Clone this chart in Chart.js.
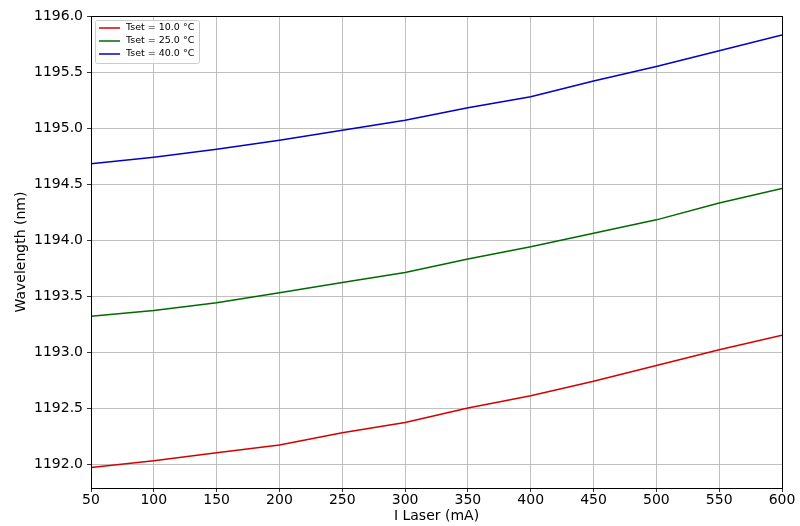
<!DOCTYPE html>
<html>
<head>
<meta charset="utf-8">
<script src="https://cdn.jsdelivr.net/npm/chart.js@4"></script>
<style>
    html, body { margin: 0; padding: 0; background: #fff; }
    #wrap { width: 800px; height: 526px; }
</style>
</head>
<body>
<div id="wrap"><canvas id="myChart" width="800" height="526"></canvas></div>
<script>
// Corriente del laser (mA)
var currents = [50, 100, 150, 200, 250, 300, 350, 400, 450, 500, 550, 600];

// Longitud de onda (nm) por temperatura
var wl10 = [1191.97, 1192.03, 1192.10, 1192.17, 1192.28, 1192.37, 1192.50, 1192.61, 1192.74, 1192.88, 1193.02, 1193.15];
var wl25 = [1193.32, 1193.37, 1193.44, 1193.53, 1193.62, 1193.71, 1193.83, 1193.94, 1194.06, 1194.18, 1194.33, 1194.46];
var wl40 = [1194.68, 1194.74, 1194.81, 1194.89, 1194.98, 1195.07, 1195.18, 1195.28, 1195.42, 1195.55, 1195.69, 1195.83];

var seriesLabels = ["Tset = 10.0 °C", "Tset = 25.0 °C", "Tset = 40.0 °C"];
var seriesColors = ["#d40000", "#006a00", "#0000c8"];

var yTicks = [1192.0, 1192.5, 1193.0, 1193.5, 1194.0, 1194.5, 1195.0, 1195.5, 1196.0];

let toPoints = (ys) => currents.map((x, i) => ({ x: x, y: ys[i] }));

const FONT = "'DejaVu Sans', sans-serif";

// leyenda dentro del area del grafico (arriba a la izquierda)
const innerLegend = {
    id: "innerLegend",
    afterDraw(chart) {
        const ctx = chart.ctx;
        const area = chart.chartArea;
        const x0 = area.left + 4, y0 = area.top + 4;
        const w = 104, h = 43;
        ctx.save();
        ctx.fillStyle = "rgba(255,255,255,0.8)";
        ctx.strokeStyle = "#cccccc";
        ctx.lineWidth = 1;
        ctx.beginPath();
        ctx.roundRect(x0 + 0.5, y0 + 0.5, w, h, 2);
        ctx.fill();
        ctx.stroke();
        ctx.font = "9.5px " + FONT;
        ctx.textBaseline = "middle";
        chart.data.datasets.forEach((ds, i) => {
            const yy = y0 + 8 + i * 13;
            ctx.strokeStyle = ds.borderColor;
            ctx.lineWidth = 1.5;
            ctx.beginPath();
            ctx.moveTo(x0 + 4, yy);
            ctx.lineTo(x0 + 25, yy);
            ctx.stroke();
            ctx.fillStyle = "#000";
            ctx.fillText(ds.label, x0 + 31, yy);
        });
        ctx.restore();
    }
};

// marco negro alrededor del area
const frame = {
    id: "frame",
    afterDraw(chart) {
        const a = chart.chartArea;
        const ctx = chart.ctx;
        ctx.save();
        ctx.strokeStyle = "#000";
        ctx.lineWidth = 1;
        ctx.strokeRect(a.left + 0.5, a.top + 0.5, a.right - a.left, a.bottom - a.top);
        ctx.restore();
    }
};

const data = {
    datasets: [wl10, wl25, wl40].map((ys, i) => ({
        label: seriesLabels[i],
        data: toPoints(ys),
        borderColor: seriesColors[i],
        backgroundColor: seriesColors[i],
        borderWidth: 1.5,
        pointRadius: 0,
        tension: 0,
        fill: false
    }))
};

const config = {
    type: "line",
    data: data,
    options: {
        responsive: false,
        animation: false,
        layout: { padding: { left: 0, right: 18, top: 16, bottom: 0 } },
        plugins: {
            legend: { display: false },
            tooltip: { enabled: false }
        },
        scales: {
            x: {
                type: "linear",
                min: 50,
                max: 600,
                ticks: {
                    stepSize: 50,
                    color: "#000",
                    font: { family: FONT, size: 14 },
                    padding: 0,
                    maxRotation: 0
                },
                grid: { color: "#b0b0b0", lineWidth: 0.8, tickLength: 4, tickColor: "#000" },
                border: { color: "#000" },
                title: {
                    display: true,
                    text: "I Laser (mA)",
                    color: "#000",
                    font: { family: FONT, size: 14 },
                    padding: { top: 0, bottom: 1 }
                },
                afterFit: (s) => { s.height = 38; }
            },
            y: {
                type: "linear",
                min: 1191.786,
                max: 1196.0,
                afterBuildTicks: (s) => { s.ticks = yTicks.map((v) => ({ value: v })); },
                ticks: {
                    color: "#000",
                    font: { family: FONT, size: 14 },
                    padding: 4,
                    callback: (v) => Number(v).toFixed(1)
                },
                grid: { color: "#b0b0b0", lineWidth: 0.8, tickLength: 4, tickColor: "#000" },
                border: { color: "#000" },
                title: {
                    display: true,
                    text: "Wavelength (nm)",
                    color: "#000",
                    font: { family: FONT, size: 14 },
                    padding: { top: 13, bottom: 4 }
                },
                afterFit: (s) => { s.width = 91; }
            }
        }
    },
    plugins: [innerLegend, frame]
};

const ctx = document.getElementById("myChart").getContext("2d");
let myChart = new Chart(ctx, config);
</script>
</body>
</html>
